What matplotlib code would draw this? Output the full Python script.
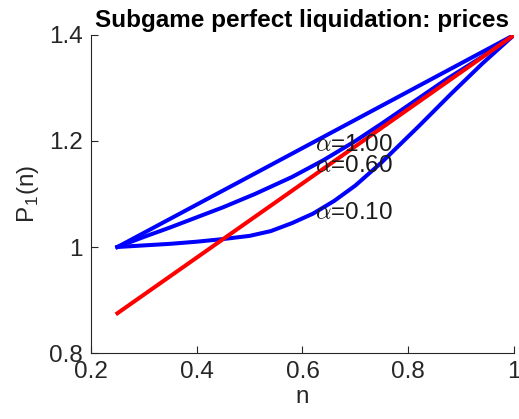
import numpy as np
import matplotlib
matplotlib.use('Agg')
import matplotlib.pyplot as plt

plt.rcParams['font.family'] = ['Liberation Sans', 'DejaVu Sans']
plt.rcParams['mathtext.fontset'] = 'cm'

# -- values
n_a100 = [0.25, 1.00]
p_a100 = [1.000, 1.400]

n_a060 = [0.25, 0.30, 0.35, 0.40, 0.45, 0.51, 0.58, 0.64,
          0.70, 0.75, 0.81, 0.87, 0.94, 1.00]
p_a060 = [1.000, 1.019, 1.037, 1.056, 1.075, 1.100, 1.132, 1.164,
          1.200, 1.233, 1.274, 1.315, 1.359, 1.400]

n_a010 = [0.25, 0.30, 0.35, 0.40, 0.45, 0.50, 0.54, 0.58,
          0.62, 0.66, 0.70, 0.75, 0.82, 0.88, 0.94, 1.00]
p_a010 = [1.000, 1.003, 1.006, 1.010, 1.015, 1.021, 1.030, 1.045,
          1.063, 1.087, 1.116, 1.160, 1.228, 1.288, 1.346, 1.400]

n_red = [0.25, 1.00]
p_red = [0.875, 1.400]

labels = [r'$\alpha$=1.00', r'$\alpha$=0.60', r'$\alpha$=0.10']
label_y = [1.192, 1.152, 1.065]
label_x = 0.624

fig = plt.figure(figsize=(5.19, 4.19), dpi=100)
ax = fig.add_axes([0.1753, 0.1575, 0.8151, 0.759])

ax.plot(n_a100, p_a100, color=(0, 0, 1), lw=2.9)
ax.plot(n_a060, p_a060, color=(0, 0, 1), lw=2.9)
ax.plot(n_a010, p_a010, color=(0, 0, 1), lw=2.9)
ax.plot(n_red, p_red, color=(1, 0, 0), lw=2.9)

for lab, y in zip(labels, label_y):
    ax.text(label_x, y, lab, fontsize=17.5, va='center', ha='left',
            color='#1a1a1a')

ax.set(xlim=(0.2, 1.0), ylim=(0.8, 1.4))
ax.set_xticks([0.2, 0.4, 0.6, 0.8, 1.0])
ax.set_xticklabels(['0.2', '0.4', '0.6', '0.8', '1'])
ax.set_yticks([0.8, 1.0, 1.2, 1.4])
ax.set_yticklabels(['0.8', '1', '1.2', '1.4'])
for s in ('top', 'right'):
    ax.spines[s].set_visible(False)
for s in ('left', 'bottom'):
    ax.spines[s].set_color('#262626')
    ax.spines[s].set_linewidth(0.8)
ax.tick_params(direction='in', length=5, width=0.8, colors='#262626',
               labelsize=17.5, labelcolor='#262626', pad=6)

ax.set_xlabel('n', fontsize=17.5, color='#262626', labelpad=2)
ax.set_ylabel(r'P$_{\mathregular{1}}$(n)', fontsize=17.5, color='#262626',
              labelpad=6)
ax.set_title('Subgame perfect liquidation: prices', fontsize=17.5,
             fontweight='bold', pad=6)

fig.savefig('out.png', dpi=100)
